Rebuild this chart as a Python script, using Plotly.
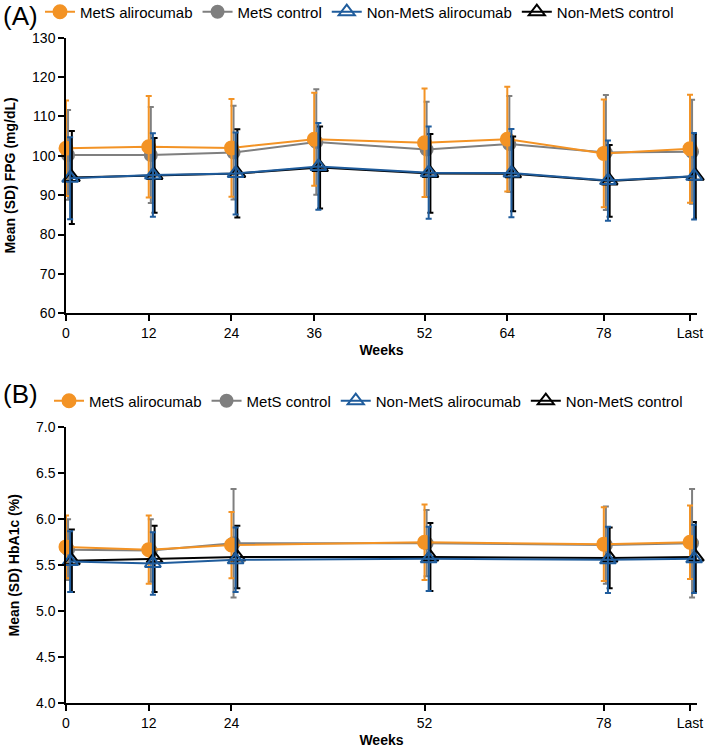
import plotly.graph_objects as go

# ---------------- data ----------------
series_names = ["MetS alirocumab", "MetS control", "Non-MetS alirocumab", "Non-MetS control"]

# Panel A: FPG (mg/dL)
fpg_week_labels = ["0", "12", "24", "36", "52", "64", "78", "Last"]
fpg_weeks = [0, 12, 24, 36, 52, 64, 78, 90.5]
fpg_mets_aliro_mean = [101.9, 102.3, 102.0, 104.2, 103.3, 104.2, 100.6, 101.8]
fpg_mets_aliro_sd = [12.1, 12.9, 12.4, 11.8, 13.8, 13.3, 13.7, 13.7]
fpg_mets_ctrl_mean = [100.2, 100.2, 100.8, 103.5, 101.6, 103.0, 100.8, 101.0]
fpg_mets_ctrl_sd = [11.4, 12.2, 11.9, 13.4, 12.1, 12.2, 14.6, 13.2]
fpg_non_aliro_mean = [94.3, 95.1, 95.5, 97.3, 95.7, 95.6, 93.7, 94.8]
fpg_non_aliro_sd = [10.4, 10.6, 10.4, 11.0, 11.7, 11.2, 10.2, 11.0]
fpg_non_ctrl_mean = [94.5, 95.0, 95.5, 97.0, 95.5, 95.4, 93.6, 94.8]
fpg_non_ctrl_sd = [11.8, 9.5, 11.2, 10.4, 10.0, 9.5, 9.1, 10.7]

# Panel B: HbA1c (%)
hba_week_labels = ["0", "12", "24", "52", "78", "Last"]
hba_weeks = [0, 12, 24, 52, 78, 90.5]
hba_mets_aliro_mean = [5.70, 5.67, 5.72, 5.75, 5.73, 5.75]
hba_mets_aliro_sd = [0.34, 0.37, 0.36, 0.41, 0.40, 0.40]
hba_mets_ctrl_mean = [5.67, 5.66, 5.74, 5.74, 5.72, 5.74]
hba_mets_ctrl_sd = [0.33, 0.34, 0.59, 0.36, 0.42, 0.59]
hba_non_aliro_mean = [5.54, 5.52, 5.56, 5.57, 5.56, 5.57]
hba_non_aliro_sd = [0.33, 0.34, 0.35, 0.35, 0.36, 0.37]
hba_non_ctrl_mean = [5.55, 5.57, 5.59, 5.59, 5.58, 5.59]
hba_non_ctrl_sd = [0.34, 0.36, 0.34, 0.37, 0.33, 0.38]

# ---------------- styles ----------------
W, H = 709, 749
FONT = "Arial, Liberation Sans, sans-serif"
ORANGE = "#F39325"
GRAY = "#7F7F7F"
BLUE = "#1F5C9C"
BLACK = "#000000"

styles = {
    "MetS alirocumab": dict(color=ORANGE, symbol="circle", size=13, dx=0.0, rank=1),
    "MetS control": dict(color=GRAY, symbol="circle", size=12, dx=0.3, rank=2),
    "Non-MetS alirocumab": dict(color=BLUE, symbol="triangle-up-open", size=14, dx=0.6, rank=3),
    "Non-MetS control": dict(color=BLACK, symbol="triangle-up-open", size=14, dx=0.85, rank=4),
}
draw_order = ["MetS control", "MetS alirocumab", "Non-MetS control", "Non-MetS alirocumab"]

fig = go.Figure()


def add_panel(weeks, data, xa, ya, legend):
    for name in draw_order:
        mean, sd = data[name]
        st = styles[name]
        fig.add_trace(go.Scatter(
            x=[w + st["dx"] for w in weeks], y=mean,
            mode="lines+markers", name=name, legend=legend, legendrank=st["rank"],
            xaxis=xa, yaxis=ya, cliponaxis=False,
            line=dict(color=st["color"], width=2),
            marker=dict(symbol=st["symbol"], size=st["size"], color=st["color"],
                        line=dict(color=st["color"], width=2)),
            error_y=dict(type="data", array=sd, visible=True, color=st["color"],
                         thickness=2, width=3),
        ))


add_panel(fpg_weeks, {
    "MetS alirocumab": (fpg_mets_aliro_mean, fpg_mets_aliro_sd),
    "MetS control": (fpg_mets_ctrl_mean, fpg_mets_ctrl_sd),
    "Non-MetS alirocumab": (fpg_non_aliro_mean, fpg_non_aliro_sd),
    "Non-MetS control": (fpg_non_ctrl_mean, fpg_non_ctrl_sd),
}, "x", "y", "legend")

add_panel(hba_weeks, {
    "MetS alirocumab": (hba_mets_aliro_mean, hba_mets_aliro_sd),
    "MetS control": (hba_mets_ctrl_mean, hba_mets_ctrl_sd),
    "Non-MetS alirocumab": (hba_non_aliro_mean, hba_non_aliro_sd),
    "Non-MetS control": (hba_non_ctrl_mean, hba_non_ctrl_sd),
}, "x2", "y2", "legend2")

XMAX = 91.5
xdom = [66 / W, (66 + 624 * XMAX / 90.5) / W]
axis_common = dict(showline=True, linecolor="black", linewidth=1.5, ticks="outside",
                   ticklen=6, tickwidth=1.5, tickcolor="black", showgrid=False,
                   zeroline=False, automargin=False,
                   tickfont=dict(size=14, color="black", family=FONT))

fig.update_layout(
    width=W, height=H,
    margin=dict(l=0, r=0, t=0, b=0, autoexpand=False),
    paper_bgcolor="white", plot_bgcolor="white",
    font=dict(family=FONT, color="black"),
    xaxis=dict(domain=xdom, range=[0, XMAX], tickvals=fpg_weeks, ticktext=fpg_week_labels,
               anchor="y",
               title=dict(text="<b>Weeks</b>", font=dict(size=14), standoff=5), **axis_common),
    yaxis=dict(domain=[1 - 313.3 / H, 1 - 37.6 / H], range=[60, 130], dtick=10, anchor="x",
               title=dict(text="<b>Mean (SD) FPG (mg/dL)</b>", font=dict(size=14), standoff=13),
               **axis_common),
    xaxis2=dict(domain=xdom, range=[0, XMAX], tickvals=hba_weeks, ticktext=hba_week_labels,
                anchor="y2",
                title=dict(text="<b>Weeks</b>", font=dict(size=14), standoff=5), **axis_common),
    yaxis2=dict(domain=[1 - 703.3 / H, 1 - 427.3 / H], range=[4.0, 7.0], dtick=0.5,
                tickformat=".1f", anchor="x2",
                title=dict(text="<b>Mean (SD) HbA1c (%)</b>", font=dict(size=14), standoff=13),
                **axis_common),
    legend=dict(orientation="h", x=40 / W, xanchor="left", y=1 - 12 / H, yanchor="middle",
                font=dict(size=15, family=FONT), bgcolor="rgba(0,0,0,0)", itemwidth=30,
                tracegroupgap=0),
    legend2=dict(orientation="h", x=49 / W, xanchor="left", y=1 - 401 / H, yanchor="middle",
                 font=dict(size=15, family=FONT), bgcolor="rgba(0,0,0,0)", itemwidth=30,
                 tracegroupgap=0),
    annotations=[
        dict(text="(A)", x=1 / W, y=1 - 15.5 / H, xref="paper", yref="paper",
             xanchor="left", yanchor="middle", showarrow=False, font=dict(size=26, family=FONT)),
        dict(text="(B)", x=1 / W, y=1 - 394 / H, xref="paper", yref="paper",
             xanchor="left", yanchor="middle", showarrow=False, font=dict(size=26, family=FONT)),
    ],
)

fig.write_html("out.html", config={"displayModeBar": False},
               post_script="document.body.style.margin='0';")
